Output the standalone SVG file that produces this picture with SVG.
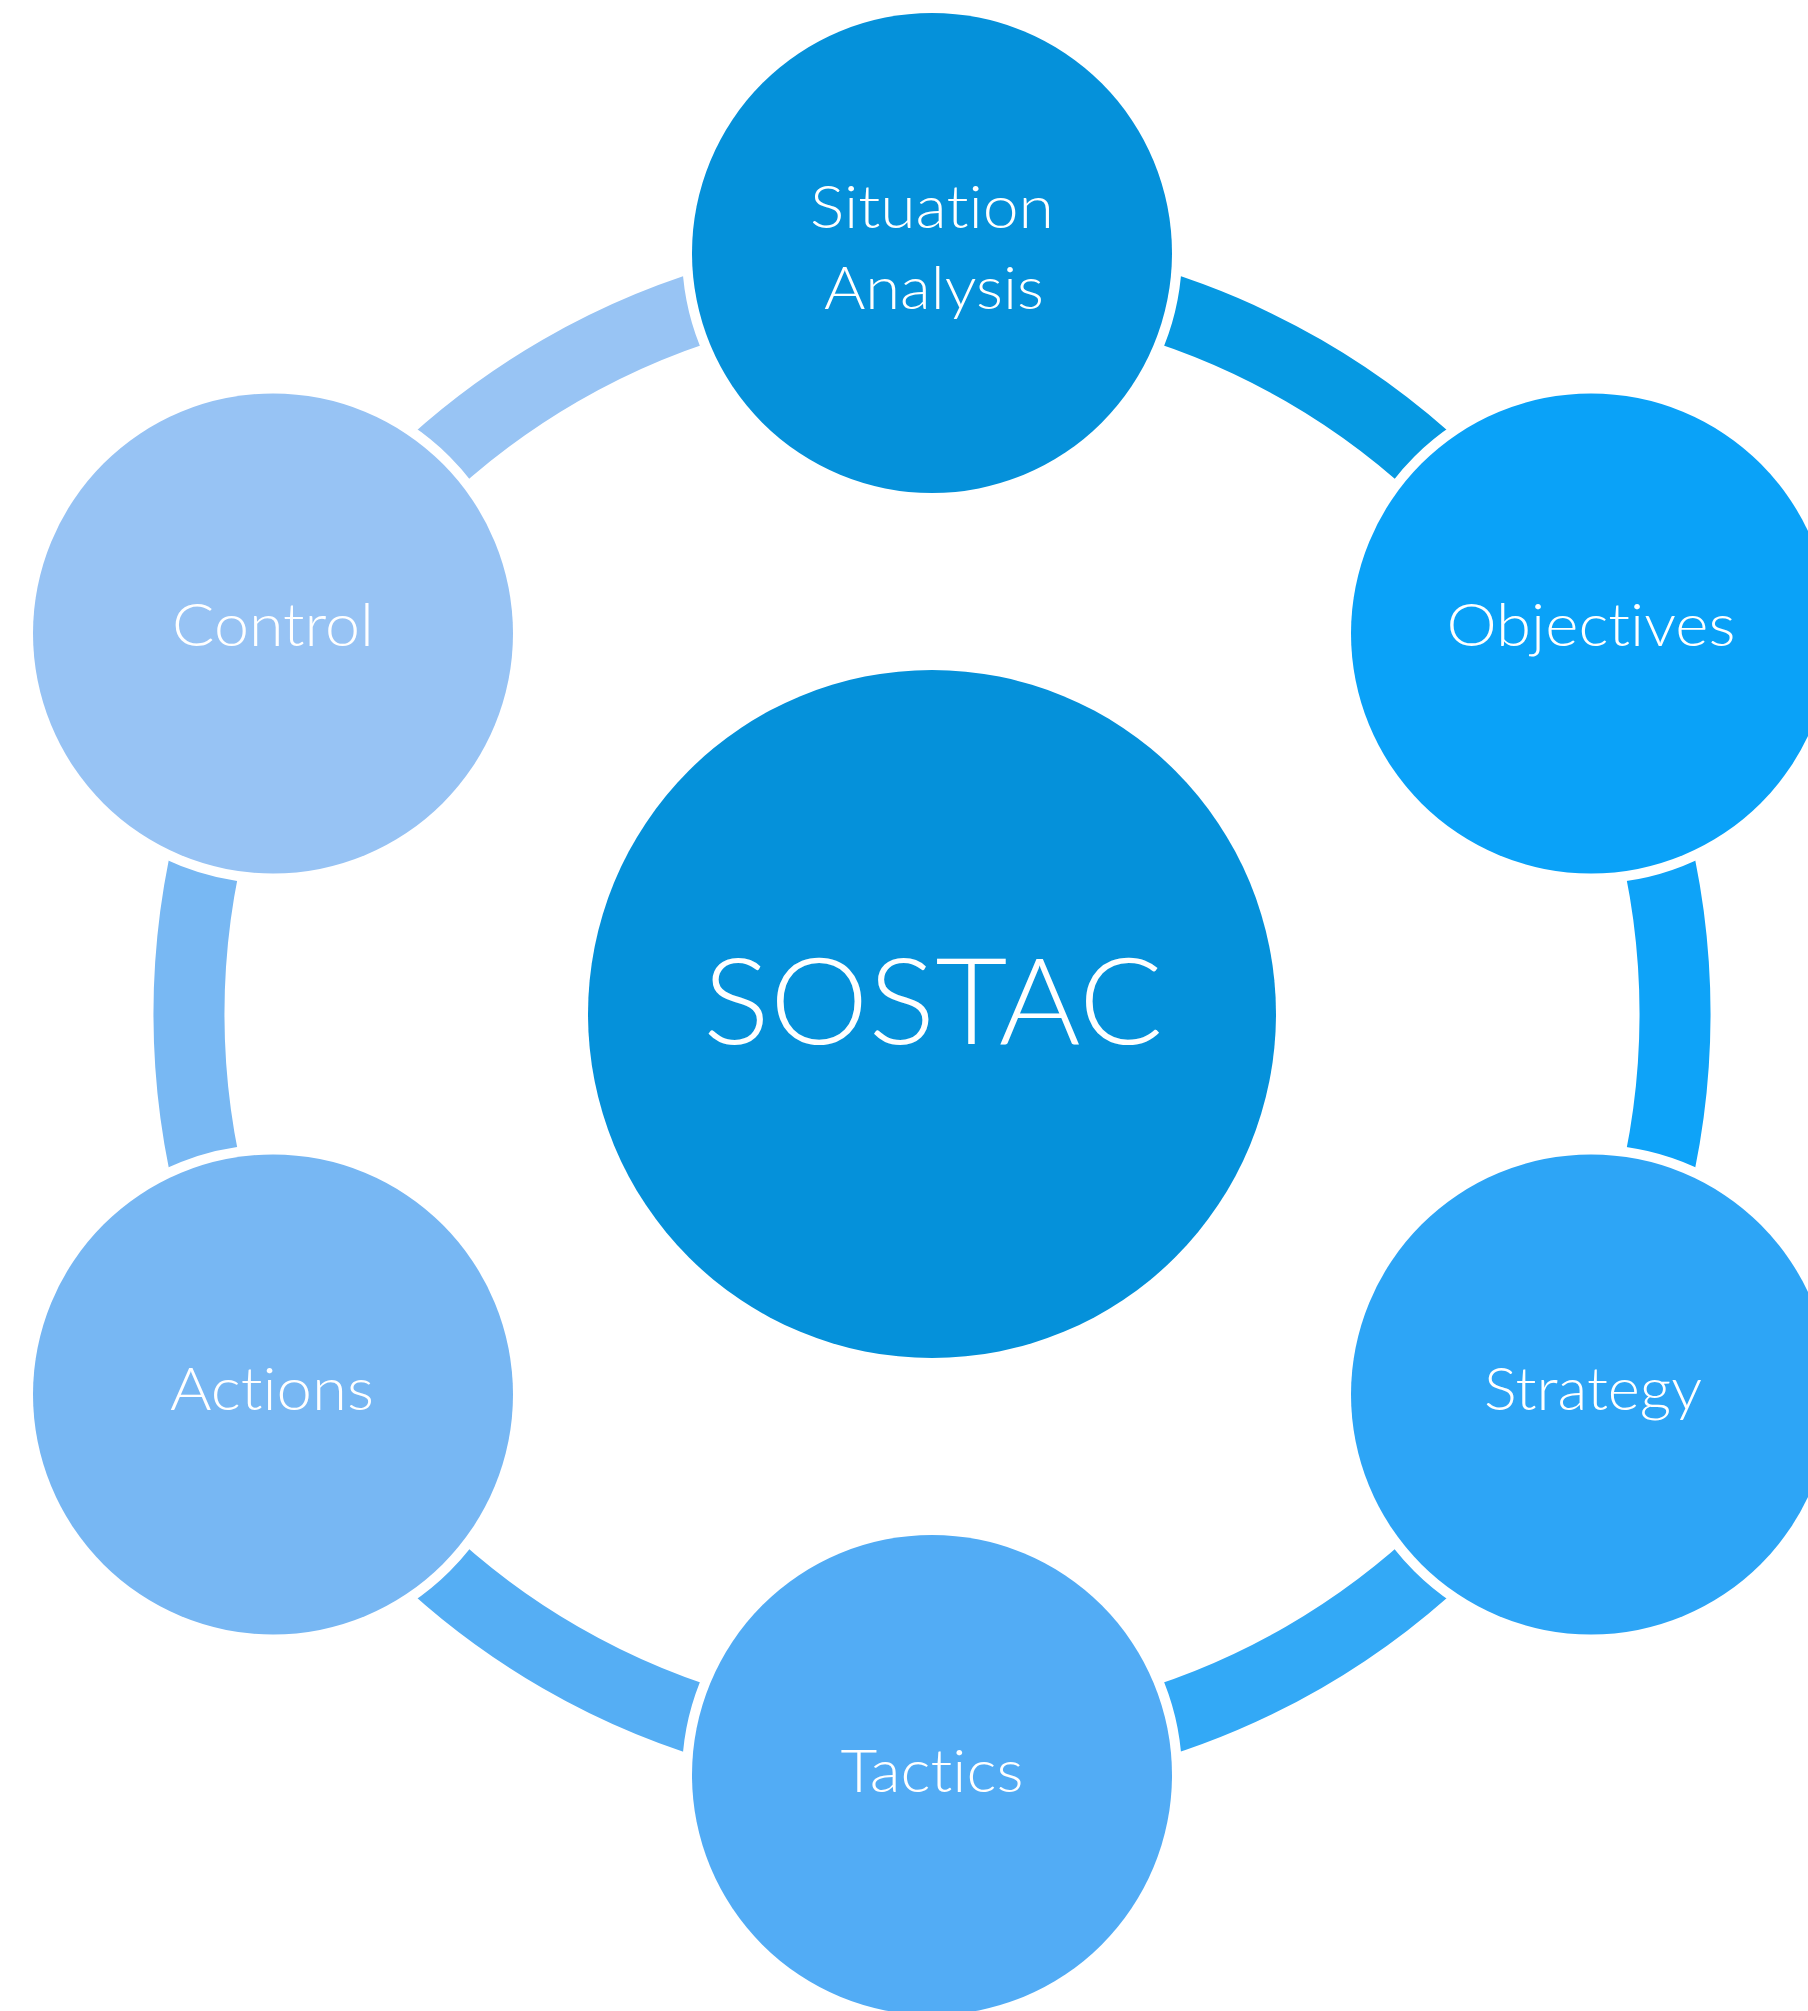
<svg xmlns="http://www.w3.org/2000/svg" width="1808" height="2011" viewBox="0 0 1808 2011">
  <style>
    .arc { fill: none; stroke-width: 71; }
    .node { stroke: #ffffff; stroke-width: 20; paint-order: stroke; }
    .lbl { font-family: Lato, "Open Sans", "Liberation Sans", sans-serif; font-weight: 300; fill: #ffffff; text-anchor: middle; font-size: 60px; font-variant-ligatures: none; font-feature-settings: "liga" 0, "clig" 0; }
    .big { font-size: 121px; }
  </style>
  <rect width="1808" height="2011" fill="#ffffff"/>
  <g id="connectors">
    <path class="arc" stroke="#0699E2" d="M 932 271 A 743 743 0 0 1 1575.5 642.5"/>
    <path class="arc" stroke="#0EA3F8" d="M 1575.5 642.5 A 743 743 0 0 1 1575.5 1385.5"/>
    <path class="arc" stroke="#33A9F6" d="M 1575.5 1385.5 A 743 743 0 0 1 932 1757"/>
    <path class="arc" stroke="#55AEF4" d="M 932 1757 A 743 743 0 0 1 288.5 1385.5"/>
    <path class="arc" stroke="#78B8F3" d="M 288.5 1385.5 A 743 743 0 0 1 288.5 642.5"/>
    <path class="arc" stroke="#98C4F4" d="M 288.5 642.5 A 743 743 0 0 1 932 271"/>
  </g>
  <g id="node-sostac">
    <circle cx="932" cy="1014" r="344" fill="#0591DA"/>
    <text class="lbl big" x="933" y="1044" textLength="460" lengthAdjust="spacingAndGlyphs">SOSTAC</text>
  </g>
  <g id="node-situation">
    <circle class="node" cx="932" cy="253" r="240" fill="#0591DA"/>
    <text class="lbl" x="932" y="228" textLength="244" lengthAdjust="spacingAndGlyphs">Situation</text>
    <text class="lbl" x="934" y="309" textLength="220" lengthAdjust="spacingAndGlyphs">Analysis</text>
  </g>
  <g id="node-objectives">
    <circle class="node" cx="1591" cy="633.5" r="240" fill="#0AA2F8"/>
    <text class="lbl" x="1591" y="646" textLength="289" lengthAdjust="spacingAndGlyphs">Objectives</text>
  </g>
  <g id="node-strategy">
    <circle class="node" cx="1591" cy="1394.5" r="240" fill="#2DA5F6"/>
    <text class="lbl" x="1593" y="1410" textLength="218" lengthAdjust="spacingAndGlyphs">Strategy</text>
  </g>
  <g id="node-tactics">
    <circle class="node" cx="932" cy="1775" r="240" fill="#52ACF5"/>
    <text class="lbl" x="932" y="1792" textLength="183" lengthAdjust="spacingAndGlyphs">Tactics</text>
  </g>
  <g id="node-actions">
    <circle class="node" cx="273" cy="1394.5" r="240" fill="#77B7F3"/>
    <text class="lbl" x="272" y="1410" textLength="204" lengthAdjust="spacingAndGlyphs">Actions</text>
  </g>
  <g id="node-control">
    <circle class="node" cx="273" cy="633.5" r="240" fill="#97C3F4"/>
    <text class="lbl" x="273" y="646" textLength="202" lengthAdjust="spacingAndGlyphs">Control</text>
  </g>
</svg>
